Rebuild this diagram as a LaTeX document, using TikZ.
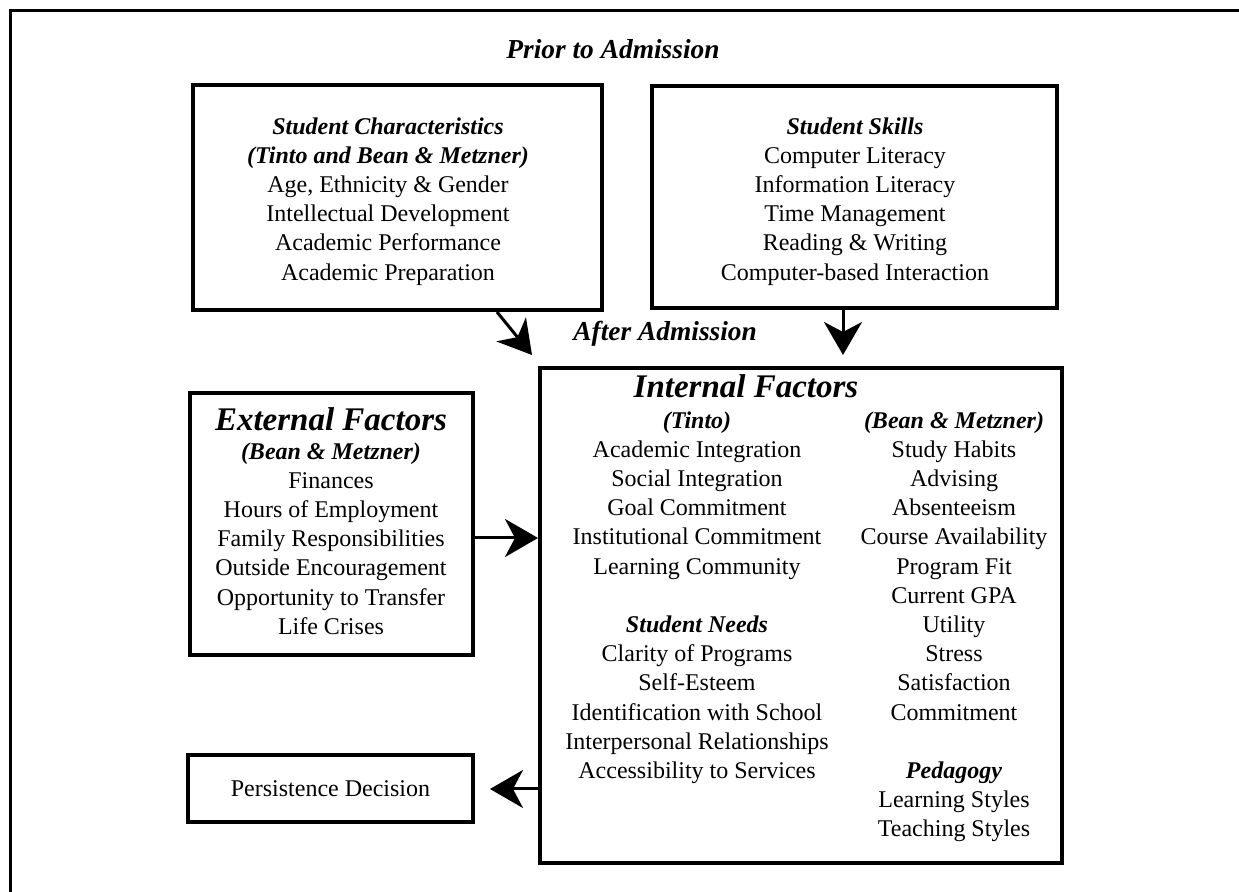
\documentclass[tikz,border=0pt]{standalone}
\usepackage{fontspec}
\setmainfont{Liberation Serif}
\usetikzlibrary{arrows.meta}
\tikzset{
  box/.style={draw, line width=2pt, inner sep=0pt, font=\fontsize{12}{14.6}\selectfont},
  txt/.style={inner sep=0pt, align=center, font=\fontsize{12}{14.6}\selectfont, anchor=north},
  bigtitle/.style={inner sep=0pt, font=\fontsize{16.5}{20}\selectfont\bfseries\itshape},
  phase/.style={inner sep=0pt, font=\fontsize{13.7}{16}\selectfont\bfseries\itshape},
  arr/.style={line width=1.5pt, -{Stealth[length=16.5pt, width=19pt, inset=5pt]}},
}
\newcommand{\hd}[1]{\textbf{\textit{#1}}}
\begin{document}
\begin{tikzpicture}[x=0.5pt,y=-0.5pt]
\useasboundingbox (0,0) rectangle (1239,892);
% outer frame
\draw[line width=1.5pt] (1239,11) -- (10,11) -- (10,892);

\node[phase, anchor=west] (prior) at (506,49) {Prior to Admission};
\node[phase, anchor=west] (after) at (573,334) {After Admission};

% boxes
\node[box, minimum width=204.5pt, minimum height=112.5pt] (sc) at (397.5,197.5) {};
\node[box, minimum width=202.5pt, minimum height=111pt] (ss) at (854.5,197) {};
\node[box, minimum width=261pt, minimum height=247.5pt] (int) at (801,615.5) {};
\node[box, minimum width=141.5pt, minimum height=131pt] (ext) at (331.5,524) {};
\node[box, minimum width=142.5pt, minimum height=33.5pt] (pd) at (330.5,788.5) {Persistence Decision};

% texts
\node[txt] (sctext) at (388,117) {\hd{Student Characteristics}\\ \hd{(Tinto and Bean \& Metzner)}\\
  Age, Ethnicity \& Gender\\ Intellectual Development\\ Academic Performance\\ Academic Preparation};
\node[txt] (sstext) at (855,117) {\hd{Student Skills}\\ Computer Literacy\\ Information Literacy\\
  Time Management\\ Reading \& Writing\\ Computer-based Interaction};

\node[bigtitle] (inttitle) at (746,386) {Internal Factors};
\node[txt] (intleft) at (697,411) {\hd{(Tinto)}\\ Academic Integration\\ Social Integration\\ Goal Commitment\\
  Institutional Commitment\\ Learning Community\\ \mbox{}\\ \hd{Student Needs}\\ Clarity of Programs\\ Self-Esteem\\
  Identification with School\\ Interpersonal Relationships\\ Accessibility to Services};
\node[txt] (intright) at (954,411) {\hd{(Bean \& Metzner)}\\ Study Habits\\ Advising\\ Absenteeism\\
  Course Availability\\ Program Fit\\ Current GPA\\ Utility\\ Stress\\ Satisfaction\\ Commitment\\ \mbox{}\\
  \hd{Pedagogy}\\ Learning Styles\\ Teaching Styles};

\node[bigtitle] (exttitle) at (331,419) {External Factors};
\node[txt] (exttext) at (331,442) {\hd{(Bean \& Metzner)}\\ Finances\\ Hours of Employment\\ Family Responsibilities\\
  Outside Encouragement\\ Opportunity to Transfer\\ Life Crises};

% connectors
\coordinate (t1) at (532,355);
\coordinate (t2) at (843,355);
\coordinate (t3) at (500,538);
\coordinate (t4) at (490,789);
\draw[arr] ([xshift=49.75pt]sc.south) -- (t1);
\draw[arr] (ss.south -| t2) -- (t2);
\draw[arr] (ext.east |- t3) -- (int.west |- t3);
\draw[arr] (int.west |- t4) -- (t4);
\end{tikzpicture}
\end{document}
